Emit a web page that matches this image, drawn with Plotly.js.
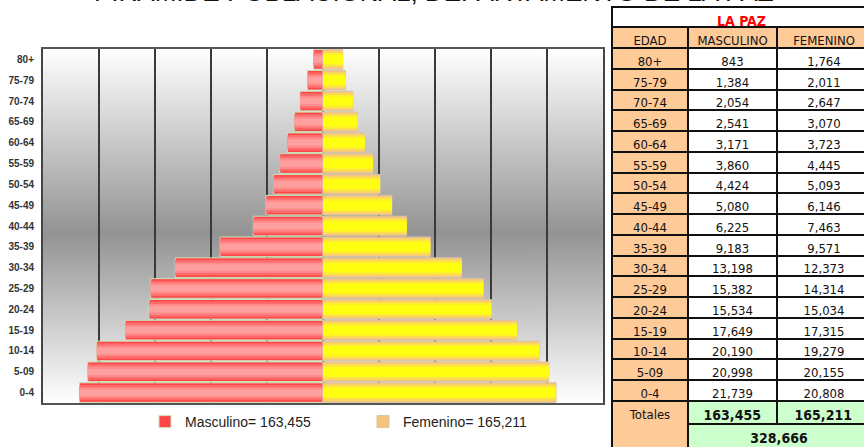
<!DOCTYPE html>
<html>
<head>
<meta charset="utf-8">
<script src="https://cdn.plot.ly/plotly-3.0.1.min.js"></script>
<style>
html,body{margin:0;padding:0;overflow:hidden;background:#fff;}
#chart{width:880px;height:460px;}
</style>
</head>
<body>
<div id="chart"></div>
<script>
// ---- data ----
const ageGroups = ['80+','75-79','70-74','65-69','60-64','55-59','50-54','45-49','40-44','35-39','30-34','25-29','20-24','15-19','10-14','5-09','0-4'];
const masculino = [843,1384,2054,2541,3171,3860,4424,5080,6225,9183,13198,15382,15534,17649,20190,20998,21739];
const femenino  = [1764,2011,2647,3070,3723,4445,5093,6146,7463,9571,12373,14314,15034,17315,19279,20155,20808];
const totalMasculino = 163455;
const totalFemenino = 165211;
const totalGeneral = 328666;
const departamento = 'LA PAZ';
const chartTitle = 'PIRAMIDE POBLACIONAL, DEPARTAMENTO DE LA PAZ';
const tableHeader = ['EDAD','MASCULINO','FEMENINO'];
const totalesLabel = 'Totales';

// ---- geometry helpers (figure larger than viewport; right/bottom clipped like the reference) ----
const W = 880, H = 460;
const px = x => x / W;
const py = y => 1 - y / H;
const fmt = v => v.toLocaleString('en-US');

// background gradient for plot area
const cv = document.createElement('canvas');
cv.width = 4; cv.height = 354;
const ctx = cv.getContext('2d');
const g = ctx.createLinearGradient(0, 0, 0, 354);
g.addColorStop(0, '#ffffff');
g.addColorStop(0.52, '#939393');
g.addColorStop(1, '#ffffff');
ctx.fillStyle = g; ctx.fillRect(0, 0, 4, 354);
const bgSrc = cv.toDataURL();

const negMasc = masculino.map(v => -v);

const maleLayers = [
  {w: 0.94, c: '#ff4646', line: {color: '#c9e3b8', width: 1}},
  {w: 0.74, c: '#ff6a6a'},
  {w: 0.52, c: '#ff8a8a'},
  {w: 0.30, c: '#ffa0a0'}
];
const femLayers = [
  {w: 0.94, c: '#f7c47e', line: {color: '#d8c4a4', width: 1}},
  {w: 0.78, c: '#fcd95a'},
  {w: 0.60, c: '#fff02a'},
  {w: 0.42, c: '#ffff10'}
];

const traces = [];
maleLayers.forEach((L, i) => {
  traces.push({
    type: 'bar', orientation: 'h', y: ageGroups, x: negMasc, width: L.w,
    marker: {color: L.c, line: L.line || {width: 0}},
    name: 'Masculino= ' + fmt(totalMasculino),
    showlegend: i === 0, legendgroup: 'm', hoverinfo: 'skip'
  });
});
femLayers.forEach((L, i) => {
  traces.push({
    type: 'bar', orientation: 'h', y: ageGroups, x: femenino, width: L.w,
    marker: {color: L.c, line: L.line || {width: 0}},
    name: 'Femenino= ' + fmt(totalFemenino),
    showlegend: i === 0, legendgroup: 'f', hoverinfo: 'skip'
  });
});

const tblFont = {family: 'Liberation Sans Narrow, DejaVu Sans Condensed, Liberation Sans, Arial', size: 13, color: '#111'};
const peach = '#fdca98';
const green = '#ccffcc';
const lineSpec = {color: '#111', width: 2};

// LA PAZ header
traces.push({
  type: 'table',
  domain: {x: [px(612), px(871)], y: [py(27), py(7)]},
  columnwidth: [259],
  header: {values: [departamento], height: 20, fill: {color: '#ffffff'}, line: lineSpec,
    align: 'center', font: Object.assign({}, tblFont, {color: '#ff0000', weight: 'bold', size: 14})},
  cells: {values: [[]]}
});
// main table
traces.push({
  type: 'table',
  domain: {x: [px(612), px(871)], y: [py(405), py(27)]},
  columnwidth: [76, 89, 94],
  header: {values: tableHeader, height: 21, fill: {color: peach}, line: lineSpec, align: 'center', font: tblFont},
  cells: {
    values: [ageGroups, masculino, femenino],
    format: ['', ',d', ',d'],
    height: 20.76,
    align: 'center',
    line: lineSpec,
    fill: {color: [ageGroups.map(() => peach), masculino.map(() => '#ffffff'), femenino.map(() => '#ffffff')]},
    font: tblFont
  }
});
// Totales label
traces.push({
  type: 'table',
  domain: {x: [px(612), px(688)], y: [py(449), py(401)]},
  columnwidth: [76],
  header: {values: [totalesLabel], height: 47, fill: {color: peach}, line: lineSpec, align: 'center', font: tblFont},
  cells: {values: [[]]}
});
// totals row 1
traces.push({
  type: 'table',
  domain: {x: [px(688), px(871)], y: [py(425), py(401)]},
  columnwidth: [89, 94],
  header: {values: [totalMasculino, totalFemenino], format: [',d', ',d'], height: 23, fill: {color: green}, line: lineSpec,
    align: 'center', font: Object.assign({}, tblFont, {weight: 'bold', size: 14})},
  cells: {values: [[], []]}
});
// totals row 2
traces.push({
  type: 'table',
  domain: {x: [px(688), px(871)], y: [py(449), py(424)]},
  columnwidth: [183],
  header: {values: [totalGeneral], format: [',d'], height: 24, fill: {color: green}, line: lineSpec,
    align: 'center', font: Object.assign({}, tblFont, {weight: 'bold', size: 14})},
  cells: {values: [[]]}
});

const layout = {
  width: W, height: H,
  margin: {l: 0, r: 0, t: 0, b: 0},
  paper_bgcolor: '#ffffff',
  plot_bgcolor: 'rgba(0,0,0,0)',
  barmode: 'overlay',
  font: {family: 'Liberation Sans, Arial', color: '#222'},
  xaxis: {
    domain: [px(43), px(603)],
    range: [-25000, 25000], tick0: 0, dtick: 5000,
    showgrid: true, gridcolor: '#3a3a3a', gridwidth: 1.5,
    zeroline: false, showticklabels: false,
    showline: true, mirror: true, linecolor: '#555', linewidth: 2,
    fixedrange: true
  },
  yaxis: {
    domain: [py(403), py(49)],
    type: 'category', autorange: 'reversed',
    showgrid: false, zeroline: false,
    showline: true, mirror: true, linecolor: '#444', linewidth: 2,
    ticks: '', ticklabelstandoff: 5,
    tickfont: {family: 'Liberation Sans, Arial', size: 10, color: '#333', weight: 'bold'},
    fixedrange: true
  },
  images: [{
    source: bgSrc, xref: 'x domain', yref: 'y domain', x: 0, y: 1, sizex: 1, sizey: 1,
    xanchor: 'left', yanchor: 'top', sizing: 'stretch', layer: 'below'
  }],
  legend: {
    orientation: 'h', x: px(145), xanchor: 'left', y: py(406), yanchor: 'top',
    font: {family: 'Liberation Sans, Arial', size: 14, color: '#222'},
    itemwidth: 30, entrywidth: 173, bgcolor: 'rgba(0,0,0,0)', traceorder: 'normal'
  },
  annotations: [{
    text: chartTitle, xref: 'paper', yref: 'paper', x: px(434), y: py(9),
    xanchor: 'center', yanchor: 'bottom', showarrow: false,
    font: {family: 'Liberation Sans, Arial', size: 26, color: '#111'}
  }],
  showlegend: true
};

Plotly.newPlot('chart', traces, layout, {displayModeBar: false, staticPlot: true});
</script>
</body>
</html>
